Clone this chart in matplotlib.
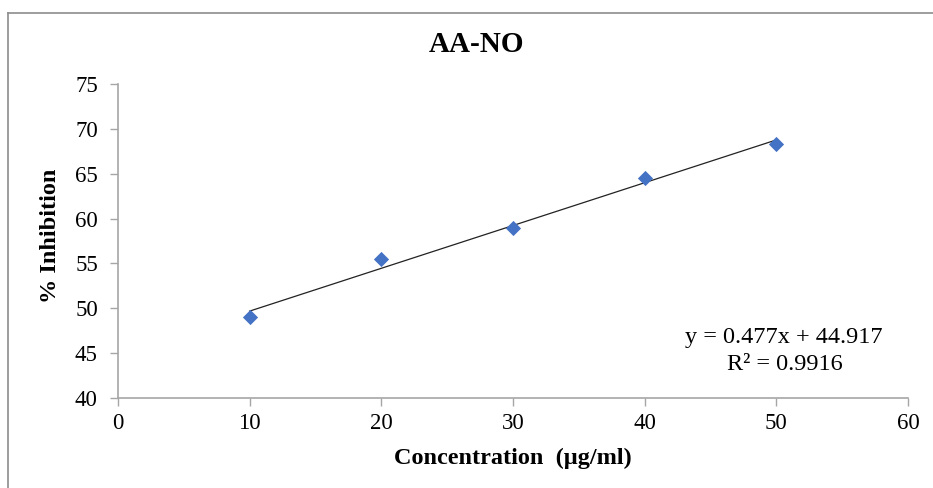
import matplotlib
matplotlib.use("Agg")
import matplotlib.pyplot as plt
from matplotlib.lines import Line2D
import numpy as np

# Data
concentration = [10, 20, 30, 40, 50]
inhibition = [49.0, 55.5, 58.95, 64.5, 68.35]
slope = 0.477
intercept = 44.917
r2 = 0.9916
x_ticks = [0, 10, 20, 30, 40, 50, 60]
y_ticks = [40, 45, 50, 55, 60, 65, 70, 75]

plt.rcParams['font.family'] = ['Liberation Serif', 'DejaVu Serif']

fig = plt.figure(figsize=(9.33, 4.88), dpi=100)
W, H = 933, 488
ax = fig.add_axes([118 / W, 1 - 398 / H, (908 - 118) / W, (398 - 84) / H])

ax.scatter(concentration, inhibition, marker='D', s=60, color='#4472C4', zorder=3, linewidths=0)
xf = np.array([min(concentration), max(concentration)])
ax.plot(xf, slope * xf + intercept, color='#222222', lw=0.9, zorder=2)

ax.set_xlim(0, 60)
ax.set_ylim(40, 75)
ax.set_xticks(x_ticks)
ax.set_yticks(y_ticks)
ax.tick_params(axis='both', labelsize=16.5, color='#A6A6A6', length=5.5, width=1, direction='out')
ax.tick_params(axis='x', pad=5)
ax.tick_params(axis='y', pad=9)
for s in ['top', 'right']:
    ax.spines[s].set_visible(False)
for s in ['left', 'bottom']:
    ax.spines[s].set_color('#A6A6A6')
    ax.spines[s].set_linewidth(1.2)

fig.text(476 / W, 1 - 45 / H, 'AA-NO', ha='center', va='center', fontsize=21, fontweight='bold')
fig.text(513 / W, 1 - 458 / H, 'Concentration  (µg/ml)', ha='center', va='center', fontsize=17.5, fontweight='bold')
fig.text(50 / W, 1 - 236 / H, '% Inhibition', ha='center', va='center', fontsize=17.5, fontweight='bold', rotation=90)

fig.text(784 / W, 1 - 338 / H, f'y = {slope}x + {intercept}', ha='center', va='center', fontsize=17.5)
fig.text(785 / W, 1 - 365 / H, f'R² = {r2}', ha='center', va='center', fontsize=17.5)

# chart-area border (top and left visible)
fig.add_artist(Line2D([8 / W, 1], [1 - 13 / H, 1 - 13 / H], transform=fig.transFigure, color='#8C8C8C', lw=1.2))
fig.add_artist(Line2D([8 / W, 8 / W], [0, 1 - 13 / H], transform=fig.transFigure, color='#8C8C8C', lw=1.2))

fig.savefig('out.png', dpi=100)
